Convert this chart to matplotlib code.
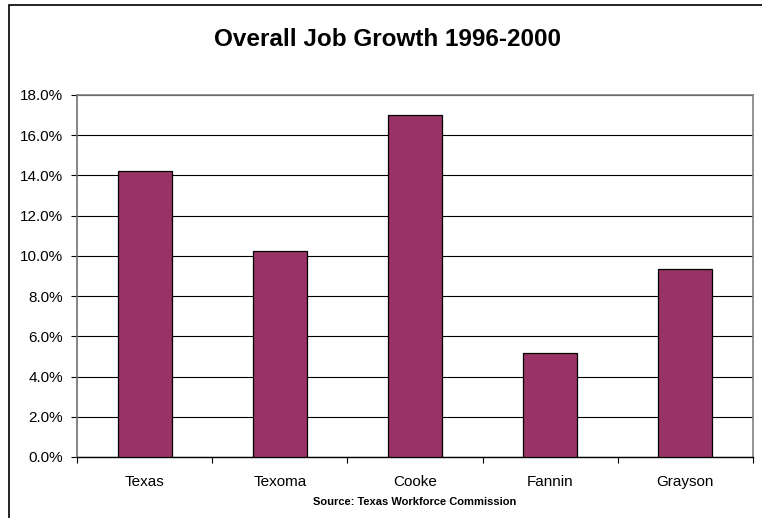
import matplotlib.pyplot as plt
from matplotlib.patches import Rectangle
from matplotlib.ticker import FuncFormatter

plt.rcParams['font.family'] = ['Liberation Sans', 'DejaVu Sans']

# Job growth by area, percent
areas = ['Texas', 'Texoma', 'Cooke', 'Fannin', 'Grayson']
growth = [14.2, 10.25, 17.0, 5.15, 9.35]

fig = plt.figure(figsize=(7.62, 5.18), dpi=100)
ax = fig.add_axes([77 / 762, 1 - 457 / 518, (753 - 77) / 762, (457 - 95) / 518])

x = range(len(areas))
ax.bar(x, growth, width=0.4, color='#993366', edgecolor='black', linewidth=0.9, zorder=3)

ax.set_xlim(-0.5, len(areas) - 0.5)
ax.set_ylim(0, 18)
ax.set_yticks(range(0, 19, 2))
ax.yaxis.set_major_formatter(FuncFormatter(lambda v, p: f'{v:.1f}%'))
ax.grid(axis='y', color='black', linewidth=0.8, zorder=1)

# tick marks sit between categories, labels at the category centres
ax.set_xticks([i - 0.5 for i in range(len(areas) + 1)])
ax.set_xticklabels([])
ax.set_xticks(list(x), minor=True)
ax.set_xticklabels(areas, minor=True)
ax.tick_params(axis='x', which='major', length=4, width=0.8, color='black')
ax.tick_params(axis='x', which='minor', length=0, pad=13, labelsize=11)
ax.tick_params(axis='y', length=4, width=0.8, labelsize=11, pad=6)

for side in ['top', 'right', 'left']:
    ax.spines[side].set_color('#808080')
    ax.spines[side].set_linewidth(1.2)
ax.spines['left'].set_color('#707070')
ax.spines['bottom'].set_color('black')
ax.spines['bottom'].set_linewidth(1.0)

fig.text(388 / 762, 1 - 40 / 518, 'Overall Job Growth 1996-2000',
         ha='center', va='center', fontsize=17.5, fontweight='bold')
fig.text(415 / 762, 1 - 502 / 518, 'Source: Texas Workforce Commission',
         ha='center', va='center', fontsize=8, fontweight='bold')

# chart border
fig.patches.append(Rectangle((9 / 762, -0.1), 1.0, 1.1 - 5 / 518,
                             transform=fig.transFigure, fill=False,
                             edgecolor='black', linewidth=1.2))

fig.savefig('out.png', dpi=100)
